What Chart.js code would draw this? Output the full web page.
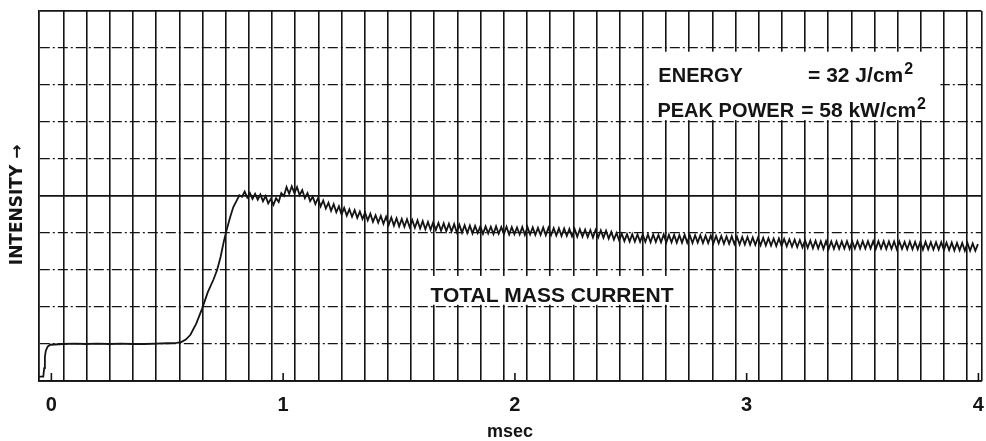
<!DOCTYPE html>
<html>
<head>
<meta charset="utf-8">
<script src="https://cdn.jsdelivr.net/npm/chart.js@4.4.1/dist/chart.umd.min.js"></script>
<style>
  html, body { margin: 0; padding: 0; background: #fff; }
  #wrap { width: 986px; height: 441px; }
</style>
</head>
<body>
<div id="wrap"><canvas id="chart-scope"></canvas></div>
<script>
(function () {
  'use strict';

  // axis range (msec) and graticule
  var xMin = -0.056, xMax = 4.013;
  var xLabels = [0, 1, 2, 3, 4];
  var gridStart = 0.052, gridStep = 0.1, gridCount = 40;

  // baseline and rise of the trace (msec, divisions)
  var riseT = [-0.056, -0.035, -0.031, -0.028, -0.024, -0.016, -0.005, 0.05, 0.1, 0.15, 0.2, 0.25, 0.3, 0.35, 0.4, 0.45, 0.5, 0.54,
    0.56, 0.58, 0.60, 0.625, 0.65, 0.675, 0.70, 0.715, 0.73, 0.745, 0.755, 0.77, 0.785];
  var riseV = [0.12, 0.12, 0.35, 0.65, 0.82, 0.93, 0.98, 1.0, 1.01, 1.0, 1.01, 1.0, 1.01, 1.0, 1.0, 1.01, 1.02, 1.03,
    1.05, 1.12, 1.25, 1.55, 1.95, 2.4, 2.75, 3.0, 3.35, 3.8, 4.05, 4.4, 4.7];

  // rippled plateau, sampled every half ripple period from 0.80 msec
  var rippleStart = 0.80, rippleStep = 0.0113;
  var rippleV = [
    4.88, 5.02, 4.98, 5.12, 4.96, 5.08, 4.92, 5.06, 4.90, 5.04,
    4.86, 5.00, 4.80, 4.92, 4.76, 4.94, 4.84, 5.08, 5.00, 5.24,
    5.06, 5.26, 5.08, 5.24, 5.02, 5.16, 4.94, 5.08, 4.86, 4.98,
    4.78, 4.94, 4.72, 4.88, 4.66, 4.82, 4.60, 4.78, 4.56, 4.72,
    4.50, 4.68, 4.47, 4.64, 4.44, 4.62, 4.41, 4.58, 4.38, 4.55,
    4.34, 4.52, 4.30, 4.48, 4.28, 4.46, 4.25, 4.44, 4.22, 4.42,
    4.20, 4.40, 4.18, 4.38, 4.17, 4.37, 4.16, 4.35, 4.14, 4.34,
    4.12, 4.32, 4.10, 4.30, 4.09, 4.29, 4.08, 4.27, 4.06, 4.26,
    4.05, 4.25, 4.04, 4.24, 4.02, 4.22, 4.01, 4.21, 4.00, 4.20,
    3.99, 4.19, 4.00, 4.18, 3.98, 4.18, 3.99, 4.17, 3.97, 4.18,
    3.98, 4.16, 3.97, 4.17, 3.96, 4.16, 3.97, 4.15, 3.96, 4.16,
    3.95, 4.16, 3.96, 4.15, 3.95, 4.14, 3.95, 4.15, 3.94, 4.14,
    3.94, 4.13, 3.93, 4.13, 3.92, 4.12, 3.92, 4.11, 3.91, 4.11,
    3.90, 4.10, 3.90, 4.09, 3.89, 4.08, 3.88, 4.08, 3.88, 4.07,
    3.87, 4.06, 3.85, 4.03, 3.82, 4.00, 3.80, 3.98, 3.78, 3.97,
    3.77, 3.97, 3.77, 3.96, 3.76, 3.96, 3.76, 3.96, 3.75, 3.96,
    3.76, 3.95, 3.75, 3.96, 3.74, 3.95, 3.75, 3.95, 3.74, 3.94,
    3.74, 3.95, 3.74, 3.94, 3.73, 3.94, 3.74, 3.94, 3.73, 3.93,
    3.73, 3.93, 3.72, 3.92, 3.72, 3.92, 3.71, 3.91, 3.71, 3.91,
    3.70, 3.90, 3.69, 3.89, 3.69, 3.89, 3.68, 3.88, 3.68, 3.87,
    3.67, 3.87, 3.66, 3.86, 3.66, 3.85, 3.65, 3.85, 3.65, 3.84,
    3.64, 3.83, 3.63, 3.82, 3.62, 3.81, 3.61, 3.80, 3.60, 3.80,
    3.59, 3.79, 3.58, 3.78, 3.57, 3.78, 3.57, 3.77, 3.57, 3.77,
    3.57, 3.77, 3.58, 3.78, 3.57, 3.77, 3.58, 3.78, 3.58, 3.78,
    3.58, 3.78, 3.58, 3.78, 3.57, 3.78, 3.58, 3.78, 3.57, 3.77,
    3.57, 3.77, 3.56, 3.77, 3.57, 3.76, 3.56, 3.77, 3.56, 3.76,
    3.56, 3.76, 3.55, 3.76, 3.56, 3.75, 3.55, 3.75, 3.55, 3.75,
    3.54, 3.74, 3.54, 3.74, 3.53, 3.73, 3.53, 3.73, 3.52, 3.73, 3.52, 3.72, 3.52, 3.70
  ];

  var INK = '#141414';
  var FONT = '"Liberation Sans", Arial, "DejaVu Sans", sans-serif';

  var points = riseT.map(function (t, i) { return { x: t, y: riseV[i] }; })
    .concat(rippleV.map(function (v, i) { return { x: rippleStart + i * rippleStep, y: v }; }));

  var gridTicks = [];
  for (var k = 0; k < gridCount; k++) gridTicks.push({ value: gridStart + k * gridStep });
  gridTicks.push({ value: xMax });

  function isSolidRow(v) { return v === 0 || v === 5 || v === 10; }

  var notes = {
    id: 'notes',
    afterDatasetsDraw: function (chart) {
      var ctx = chart.ctx, xs = chart.scales.x, ys = chart.scales.y;
      var bottom = chart.chartArea.bottom;
      ctx.save();

      // labelled time marks point up into the graticule
      ctx.strokeStyle = INK;
      ctx.lineWidth = 1.6;
      xs.ticks.forEach(function (t) {
        var px = xs.getPixelForValue(t.value);
        ctx.beginPath(); ctx.moveTo(px, bottom); ctx.lineTo(px, bottom - 8); ctx.stroke();
      });

      // energy / power box
      var bx0 = xs.getPixelForValue(2.578), bx1 = xs.getPixelForValue(3.836);
      var by0 = ys.getPixelForValue(8.9), by1 = ys.getPixelForValue(7.05);
      ctx.fillStyle = '#fff';
      ctx.fillRect(bx0, by0, bx1 - bx0, by1 - by0);

      ctx.fillStyle = INK;
      ctx.textBaseline = 'alphabetic';
      ctx.textAlign = 'left';
      ctx.font = 'bold 20px ' + FONT;
      var y1 = ys.getPixelForValue(8.08), y2 = ys.getPixelForValue(7.13);
      ctx.fillText('ENERGY', xs.getPixelForValue(2.619), y1);
      ctx.fillText('PEAK POWER', xs.getPixelForValue(2.615), y2);
      ctx.font = 'bold 21px ' + FONT;
      var e = '= 32 J/cm', p = '= 58 kW/cm';
      var ex = xs.getPixelForValue(3.265), px2 = xs.getPixelForValue(3.235);
      ctx.fillText(e, ex, y1);
      ctx.fillText(p, px2, y2);
      var ew = ctx.measureText(e).width, pw = ctx.measureText(p).width;
      ctx.font = 'bold 16px ' + FONT;
      ctx.fillText('2', ex + ew + 1, y1 - 8);
      ctx.fillText('2', px2 + pw + 1, y2 - 8);

      // trace caption
      var cx0 = xs.getPixelForValue(1.592), cx1 = xs.getPixelForValue(2.723);
      var cy0 = ys.getPixelForValue(2.84), cy1 = ys.getPixelForValue(2.06);
      ctx.fillStyle = '#fff';
      ctx.fillRect(cx0, cy0, cx1 - cx0, cy1 - cy0);
      ctx.fillStyle = INK;
      ctx.textAlign = 'center';
      ctx.font = 'bold 21px ' + FONT;
      ctx.fillText('TOTAL MASS CURRENT', xs.getPixelForValue(2.16), ys.getPixelForValue(2.14));

      ctx.restore();
    }
  };

  new Chart(document.getElementById('chart-scope'), {
    type: 'line',
    data: {
      datasets: [{
        label: 'Total mass current',
        data: points,
        xAxisID: 'x',
        yAxisID: 'y',
        borderColor: INK,
        borderWidth: 1.8,
        pointRadius: 0,
        tension: 0,
        fill: false
      }]
    },
    options: {
      responsive: true,
      maintainAspectRatio: false,
      animation: false,
      devicePixelRatio: 1,
      layout: { padding: { top: 11, right: 4, left: 0, bottom: 0 } },
      plugins: { legend: { display: false }, tooltip: { enabled: false } },
      scales: {
        x: {
          type: 'linear',
          position: 'bottom',
          min: xMin,
          max: xMax,
          afterBuildTicks: function (s) { s.ticks = xLabels.map(function (v) { return { value: v }; }); },
          ticks: { color: INK, font: { family: FONT, size: 20, weight: 'bold', lineHeight: 2.2 }, padding: 2, maxRotation: 0 },
          grid: { display: false, drawTicks: false },
          border: { display: true, color: INK, width: 1.8 },
          title: { display: true, text: 'msec', color: INK, font: { family: FONT, size: 18, weight: 'bold' }, padding: { top: -7.6, bottom: -2 } }
        },
        x2: {
          type: 'linear',
          position: 'top',
          min: xMin,
          max: xMax,
          afterBuildTicks: function (s) { s.ticks = gridTicks.slice(); },
          ticks: { display: false },
          grid: { color: INK, lineWidth: 1.6, drawTicks: false },
          border: { display: false }
        },
        y: {
          min: 0,
          max: 10,
          ticks: { display: false, stepSize: 1 },
          grid: {
            drawTicks: false,
            color: INK,
            lineWidth: function (c) { return c.tick && isSolidRow(c.tick.value) ? 1.7 : 1.2; }
          },
          border: {
            display: true,
            color: INK,
            width: 1.8,
            dash: function (c) { return c.tick && !isSolidRow(c.tick.value) ? [10, 3, 2, 3] : []; }
          },
          title: { display: true, text: 'INTENSITY →\u00a0\u00a0\u00a0', color: INK, font: { family: '"DejaVu Sans", sans-serif', size: 17, weight: 'bold' }, padding: { top: 7, bottom: 11 } }
        }
      }
    },
    plugins: [notes]
  });
})();
</script>
</body>
</html>
